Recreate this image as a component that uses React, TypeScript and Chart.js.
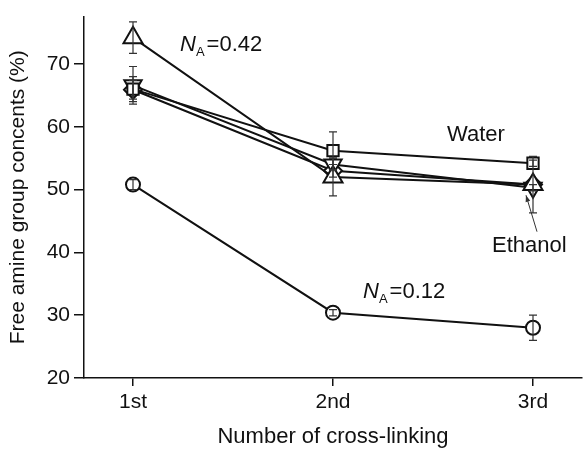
import React, { useEffect, useRef } from "react";
import { Chart, registerables } from "chart.js";
Chart.register(...registerables);

const categories = ["1st", "2nd", "3rd"];
const xPositions = [1, 2, 3];
const yTicks = [20, 30, 40, 50, 60, 70];

const triUp = [74.2, 52.0, 50.8];
const triUpErr = [2.5, 3.0, 0];
const square = [66.0, 56.2, 54.2];
const squareErr = [2.0, 3.0, 0.5];
const triDown = [66.6, 54.0, 50.3];
const triDownErr = [3.0, 1.0, 0.5];
const diamond = [65.9, 53.0, 50.8];
const diamondErr = [1.5, 1.0, 4.5];
const circle = [50.8, 30.4, 28.0];
const circleErr = [0.8, 0.5, 2.0];

const FONT = "'Liberation Sans', Arial, sans-serif";
const INK = "#111";

const errorSets = [triUpErr, squareErr, triDownErr, diamondErr, circleErr];

const errorBarPlugin = {
  id: "errorBars",
  afterDatasetsDraw(chart: any) {
    const ctx = chart.ctx;
    const yScale = chart.scales.y;
    ctx.save();
    ctx.strokeStyle = "#333";
    ctx.lineWidth = 1.2;
    chart.data.datasets.forEach((ds: any, i: number) => {
      const meta = chart.getDatasetMeta(i);
      const errs = errorSets[i];
      meta.data.forEach((el: any, j: number) => {
        const e = errs[j];
        if (!e) return;
        const v = ds.data[j].y;
        const yt = yScale.getPixelForValue(v + e);
        const yb = yScale.getPixelForValue(v - e);
        const x = el.x;
        ctx.beginPath();
        ctx.moveTo(x, yt);
        ctx.lineTo(x, yb);
        ctx.moveTo(x - 4, yt);
        ctx.lineTo(x + 4, yt);
        ctx.moveTo(x - 4, yb);
        ctx.lineTo(x + 4, yb);
        ctx.stroke();
      });
    });
    ctx.restore();
  },
};

function drawNA(ctx: CanvasRenderingContext2D, x: number, y: number, rest: string) {
  ctx.font = `italic 22px ${FONT}`;
  ctx.fillText("N", x, y);
  const wN = ctx.measureText("N").width;
  ctx.font = `13px ${FONT}`;
  ctx.fillText("A", x + wN, y + 5);
  const wA = ctx.measureText("A").width;
  ctx.font = `22px ${FONT}`;
  ctx.fillText(rest, x + wN + wA + 2, y);
}

const annotationPlugin = {
  id: "annotations",
  afterDraw(chart: any) {
    const ctx = chart.ctx;
    const xs = chart.scales.x;
    const ys = chart.scales.y;
    const px = (v: number) => xs.getPixelForValue(v);
    const py = (v: number) => ys.getPixelForValue(v);
    ctx.save();
    ctx.fillStyle = INK;
    ctx.textBaseline = "alphabetic";
    ctx.textAlign = "left";
    drawNA(ctx, px(1.235), py(72.0), "=0.42");
    drawNA(ctx, px(2.15), py(32.7), "=0.12");
    ctx.font = `22px ${FONT}`;
    ctx.fillText("Water", px(2.57), py(57.7));
    ctx.fillText("Ethanol", px(2.795), py(40.1));
    // arrow
    const x1 = px(3.02), y1 = py(43.3);
    const x2 = px(2.965), y2 = py(49.1);
    ctx.strokeStyle = "#333";
    ctx.lineWidth = 1;
    ctx.beginPath();
    ctx.moveTo(x1, y1);
    ctx.lineTo(x2, y2);
    ctx.stroke();
    const ang = Math.atan2(y2 - y1, x2 - x1);
    ctx.beginPath();
    ctx.moveTo(x2, y2);
    ctx.lineTo(x2 - 7 * Math.cos(ang - 0.35), y2 - 7 * Math.sin(ang - 0.35));
    ctx.lineTo(x2 - 7 * Math.cos(ang + 0.35), y2 - 7 * Math.sin(ang + 0.35));
    ctx.closePath();
    ctx.fillStyle = "#333";
    ctx.fill();
    ctx.restore();
  },
};

function series(vals: number[]) {
  return vals.map((v, i) => ({ x: xPositions[i], y: v }));
}

function makeDs(vals: number[], style: string, radius: number, rotation = 0) {
  return {
    data: series(vals),
    borderColor: INK,
    borderWidth: 2,
    pointStyle: style,
    pointRadius: radius,
    pointRotation: rotation,
    pointBackgroundColor: "#fff",
    pointBorderColor: INK,
    pointBorderWidth: 2,
    showLine: true,
    tension: 0,
    fill: false,
  };
}

export default function App() {
  const ref = useRef<HTMLCanvasElement | null>(null);
  useEffect(() => {
    document.body.style.margin = "0";
    if (!ref.current) return;
    const axisGrid = {
      display: true,
      drawOnChartArea: false,
      drawTicks: true,
      color: INK,
      lineWidth: 1.5,
    };
    const chart = new Chart(ref.current, {
      type: "scatter",
      data: {
        datasets: [
          makeDs(triUp, "triangle", 11),
          makeDs(square, "rect", 8),
          makeDs(triDown, "triangle", 10, 180),
          makeDs(diamond, "rectRot", 9),
          makeDs(circle, "circle", 7),
        ] as any,
      },
      options: {
        animation: false,
        responsive: false,
        layout: { autoPadding: false, padding: { left: 0, top: 12, right: 4, bottom: 0 } },
        plugins: { legend: { display: false }, tooltip: { enabled: false } },
        scales: {
          x: {
            type: "linear",
            min: 0.755,
            max: 3.245,
            afterBuildTicks: (s: any) => {
              s.ticks = xPositions.map((v) => ({ value: v }));
            },
            afterFit: (s: any) => {
              s.height = 72;
            },
            ticks: {
              callback: (v: any) => categories[xPositions.indexOf(Number(v))] ?? "",
              font: { family: FONT, size: 21 },
              color: INK,
              padding: 4,
              maxRotation: 0,
              autoSkip: false,
            },
            grid: { ...axisGrid, tickLength: 8 },
            border: { display: true, color: INK, width: 1.5 },
            title: {
              display: true,
              text: "Number of cross-linking",
              font: { family: FONT, size: 22 },
              color: INK,
              padding: { top: 0, bottom: 0 },
            },
          },
          y: {
            type: "linear",
            min: 20,
            max: 77.55,
            afterBuildTicks: (s: any) => {
              s.ticks = yTicks.map((v) => ({ value: v }));
            },
            afterFit: (s: any) => {
              s.width = 84;
            },
            ticks: {
              font: { family: FONT, size: 21 },
              color: INK,
              padding: 4,
            },
            grid: { ...axisGrid, tickLength: 10 },
            border: { display: true, color: INK, width: 1.5 },
            title: {
              display: true,
              text: "Free amine group concents (%)",
              font: { family: FONT, size: 21 },
              color: INK,
              padding: { top: 6, bottom: 0 },
            },
          },
        },
      } as any,
      plugins: [errorBarPlugin, annotationPlugin],
    });
    return () => chart.destroy();
  }, []);
  return (
    <div style={{ width: 586, height: 450, background: "#fff" }}>
      <canvas ref={ref} width={586} height={450} style={{ display: "block" }} />
    </div>
  );
}
